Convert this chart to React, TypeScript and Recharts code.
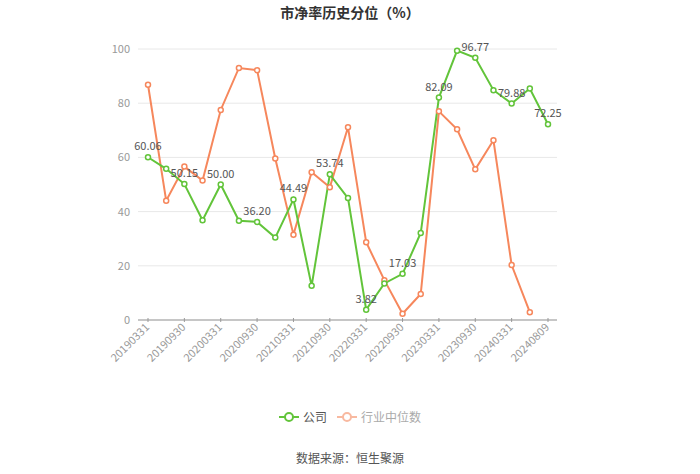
import React from 'react';
import { LineChart, Line, XAxis, YAxis, CartesianGrid, LabelList } from 'recharts';

const dates = [
  '20190331', '20190630', '20190930', '20191231', '20200331', '20200630', '20200930', '20201231',
  '20210331', '20210630', '20210930', '20211231', '20220331', '20220630', '20220930', '20221231',
  '20230331', '20230630', '20230930', '20231231', '20240331', '20240630', '20240809',
];

const companyValues = [
  60.06, 55.8, 50.15, 36.8, 50.0, 36.6, 36.2, 30.4,
  44.49, 12.6, 53.74, 45.0, 3.82, 13.5, 17.03, 32.1,
  82.09, 99.4, 96.77, 84.8, 79.88, 85.4, 72.25,
];

const industryValues: (number | null)[] = [
  86.8, 44.0, 56.6, 51.5, 77.5, 93.0, 92.2, 59.6,
  31.5, 54.5, 49.0, 71.1, 28.7, 14.7, 2.3, 9.6,
  77.0, 70.4, 55.6, 66.3, 20.3, 2.9, null,
];

const yTicks = [0, 20, 40, 60, 80, 100];

const GREEN = '#62c43a';
const ORANGE = '#f6875c';
const FONT = '"Noto Sans CJK SC", "Noto Sans", sans-serif';

const data = dates.map((d, i) => ({
  date: d,
  company: companyValues[i],
  industry: industryValues[i],
}));

const renderLabel = (props: any) => {
  const { x, y, value, index } = props;
  if (index % 2 !== 0) return null;
  return (
    <text x={x} y={y - 7} textAnchor="middle" fontSize={11} fill="#555" fontFamily={FONT}>
      {Number(value).toFixed(2)}
    </text>
  );
};

// only every other category gets a tick + label
const XTick = (props: any) => {
  const { x, y, payload, index } = props;
  if (index % 2 !== 0) return null;
  return (
    <g>
      <line x1={x} y1={y - 4} x2={x} y2={y - 8} stroke="#999" />
      <g transform={`translate(${x + 2},${y + 2})`}>
        <text textAnchor="end" transform="rotate(-45)" fontSize={11} fill="#999" fontFamily={FONT}>
          {payload.value}
        </text>
      </g>
    </g>
  );
};

const LegendIcon = ({ color }: { color: string }) => (
  <svg width={20} height={12} style={{ verticalAlign: 'middle' }}>
    <line x1={0} y1={6} x2={20} y2={6} stroke={color} strokeWidth={2} />
    <circle cx={10} cy={6} r={4} fill="#fff" stroke={color} strokeWidth={2} />
  </svg>
);

const App: React.FC = () => {
  return (
    <div style={{ position: 'absolute', left: 0, top: 0, width: 700, height: 474, fontFamily: FONT, background: '#fff' }}>
      <div style={{ position: 'absolute', top: 2, width: 700, textAlign: 'center', fontSize: 14, fontWeight: 'bold', color: '#333' }}>
        市净率历史分位（%）
      </div>
      <LineChart width={700} height={474} data={data} margin={{ top: 49, right: 143, left: 108, bottom: 94 }}>
        <CartesianGrid vertical={false} stroke="#e8e8e8" />
        <XAxis
          dataKey="date"
          interval={0}
          padding={{ left: 10, right: 9 }}
          height={60}
          tick={<XTick />}
          tickLine={false}
          tickSize={4}
          axisLine={{ stroke: '#999' }}
        />
        <YAxis
          domain={[0, 100]}
          ticks={yTicks}
          width={30}
          axisLine={false}
          tickLine={false}
          tick={{ fontSize: 11, fill: '#999', fontFamily: FONT }}
        />
        <Line
          type="linear"
          dataKey="industry"
          stroke={ORANGE}
          strokeWidth={2}
          dot={{ r: 2.5, fill: '#fff', stroke: ORANGE, strokeWidth: 1.5 }}
          isAnimationActive={false}
        />
        <Line
          type="linear"
          dataKey="company"
          stroke={GREEN}
          strokeWidth={2}
          dot={{ r: 2.5, fill: '#fff', stroke: GREEN, strokeWidth: 1.5 }}
          isAnimationActive={false}
        >
          <LabelList dataKey="company" content={renderLabel} />
        </Line>
      </LineChart>
      <div style={{ position: 'absolute', top: 408, left: 0, width: 700, textAlign: 'center', fontSize: 12 }}>
        <span style={{ display: 'inline-flex', alignItems: 'center', marginRight: 10 }}>
          <LegendIcon color={GREEN} />
          <span style={{ color: '#555', marginLeft: 4 }}>公司</span>
        </span>
        <span style={{ display: 'inline-flex', alignItems: 'center' }}>
          <LegendIcon color="#f8b9a0" />
          <span style={{ color: '#aaa', marginLeft: 4 }}>行业中位数</span>
        </span>
      </div>
      <div style={{ position: 'absolute', top: 449, left: 0, width: 700, textAlign: 'center', fontSize: 12, color: '#555' }}>
        数据来源：恒生聚源
      </div>
    </div>
  );
};

export default App;
